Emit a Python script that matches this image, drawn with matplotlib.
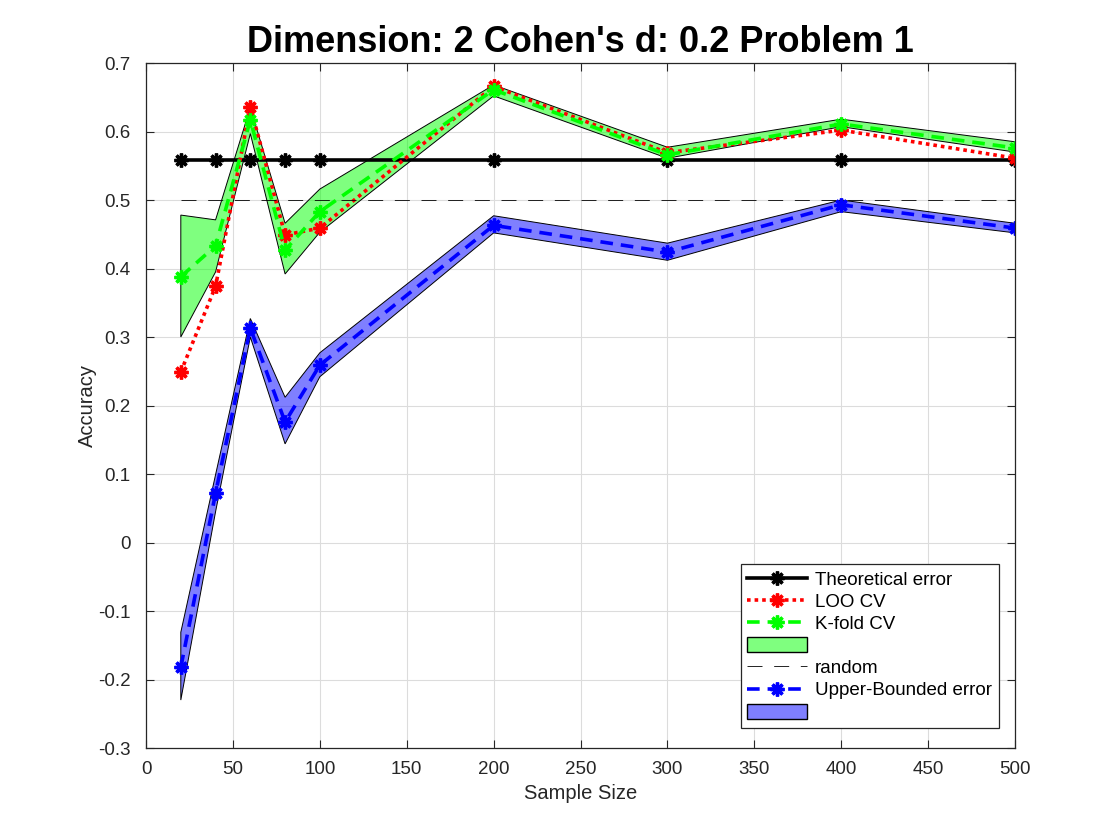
import numpy as np
import matplotlib
matplotlib.use('Agg')
import matplotlib.pyplot as plt
from matplotlib.ticker import FuncFormatter
from matplotlib.patches import Patch

plt.rcParams['font.family'] = ['Liberation Sans', 'DejaVu Sans']
plt.rcParams['axes.unicode_minus'] = False

# sample sizes and accuracy curves
sample_size = [20, 40, 60, 80, 100, 200, 300, 400, 500]
theoretical = [0.558, 0.558, 0.558, 0.558, 0.558, 0.558, 0.558, 0.558, 0.558]
random_level = [0.5, 0.5, 0.5, 0.5, 0.5, 0.5, 0.5, 0.5, 0.5]
loo_cv = [0.249, 0.374, 0.636, 0.449, 0.459, 0.666, 0.569, 0.602, 0.561]
kfold_cv = [0.388, 0.433, 0.617, 0.427, 0.483, 0.661, 0.566, 0.611, 0.576]
kfold_hi = [0.478, 0.471, 0.635, 0.466, 0.516, 0.668, 0.577, 0.618, 0.585]
kfold_lo = [0.300, 0.395, 0.597, 0.392, 0.453, 0.652, 0.561, 0.607, 0.570]
bounded = [-0.182, 0.072, 0.313, 0.176, 0.259, 0.463, 0.424, 0.493, 0.459]
bounded_hi = [-0.131, 0.099, 0.327, 0.212, 0.277, 0.477, 0.437, 0.500, 0.466]
bounded_lo = [-0.230, 0.045, 0.300, 0.144, 0.242, 0.452, 0.412, 0.483, 0.452]

x_ticks = [0, 50, 100, 150, 200, 250, 300, 350, 400, 450, 500]
y_ticks = [-0.3, -0.2, -0.1, 0, 0.1, 0.2, 0.3, 0.4, 0.5, 0.6, 0.7]

fig = plt.figure(figsize=(11.2, 8.4), dpi=100)
ax = fig.add_axes([0.1304, 0.1095, 0.7759, 0.8155])

star = (8, 2, 0)
mk = dict(marker=star, markersize=10, markeredgewidth=2.4)

ax.plot(sample_size, theoretical, color='black', lw=2.6, label='Theoretical error', **mk)
ax.plot(sample_size, loo_cv, color='#ff0000', lw=2.6, dashes=(1.0, 1.1),
        label='LOO CV', **mk)
ax.plot(sample_size, kfold_cv, color='#00ff00', lw=2.6, dashes=(3.5, 2.2),
        label='K-fold CV', **mk)
ax.fill_between(sample_size, kfold_lo, kfold_hi, facecolor='#00ff00', alpha=0.5,
                edgecolor='none', label=' ')
ax.fill(sample_size + sample_size[::-1], kfold_hi + kfold_lo[::-1],
        facecolor='none', edgecolor='black', lw=0.7)
ax.plot(sample_size, random_level, color='black', lw=0.6, dashes=(18, 14), label='random')
ax.plot(sample_size, bounded, color='#0000ff', lw=2.6, dashes=(3.5, 2.2),
        label='Upper-Bounded error', **mk)
ax.fill_between(sample_size, bounded_lo, bounded_hi, facecolor='#0000ff', alpha=0.5,
                edgecolor='none', label='  ')
ax.fill(sample_size + sample_size[::-1], bounded_hi + bounded_lo[::-1],
        facecolor='none', edgecolor='black', lw=0.7)

ax.set_xlim(0, 500)
ax.set_ylim(-0.3, 0.7)
ax.set_xticks(x_ticks)
ax.set_yticks(y_ticks)
ax.yaxis.set_major_formatter(FuncFormatter(lambda v, p: f'{v:g}'))
ax.grid(True, color='#dcdcdc', lw=0.8)
ax.set_axisbelow(True)
ax.tick_params(direction='in', top=True, right=True, length=6, labelsize=13.5,
               colors='#262626', width=0.8)
ax.tick_params(axis='x', pad=9)
ax.tick_params(axis='y', pad=11)
for s in ax.spines.values():
    s.set_color('#262626')
    s.set_linewidth(0.9)

ax.set_xlabel('Sample Size', fontsize=14.5, color='#262626', labelpad=5)
ax.set_ylabel('Accuracy', fontsize=14.5, color='#262626', labelpad=1)
ax.set_title("Dimension: 2 Cohen's d: 0.2 Problem 1", fontsize=26, fontweight='bold', pad=8)

handles, labels = ax.get_legend_handles_labels()
fixed = []
for h in handles:
    if h.__class__.__name__ in ('PolyCollection', 'FillBetweenPolyCollection'):
        fc = h.get_facecolor()[0]
        fixed.append(Patch(facecolor=fc, edgecolor='black', lw=1.0))
    else:
        fixed.append(h)
leg = ax.legend(fixed, labels, loc='lower right', bbox_to_anchor=(0.981, 0.029),
                fontsize=13.5, frameon=True, fancybox=False, framealpha=1,
                edgecolor='#262626', handlelength=3.2, handleheight=0.85, borderpad=0.35,
                labelspacing=0.22, handletextpad=0.4, borderaxespad=0.0)
leg.get_frame().set_linewidth(0.9)

fig.savefig('out.png', dpi=100)
